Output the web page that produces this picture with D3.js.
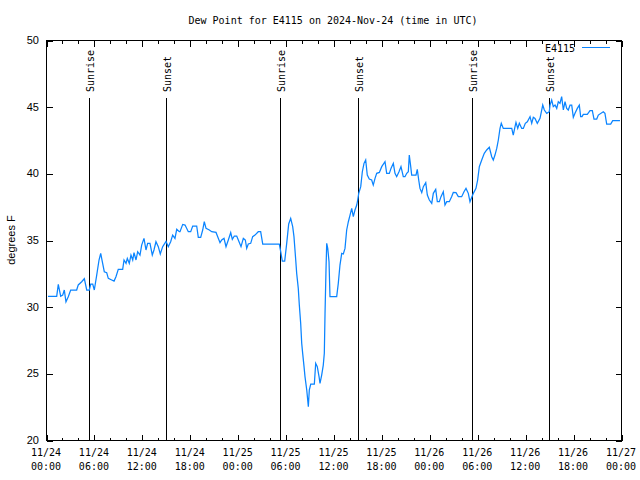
<!DOCTYPE html>
<html>
<head>
<meta charset="utf-8">
<script src="https://cdn.jsdelivr.net/npm/d3@7"></script>
<style>
  html, body { margin: 0; padding: 0; background: #fff; }
  svg { display: block; }
  text { font-family: "DejaVu Sans Mono", "Liberation Mono", monospace; font-size: 10px; fill: #000; }
  text.sans { font-family: "Liberation Sans", Arial, sans-serif; font-size: 11px; }
</style>
</head>
<body>
<svg id="chart" width="640" height="480"></svg>
<script>
// ---- data (hours since 2024-11-24 00:00 UTC, dew point °F) ----
const hours = [0.25,1.34,1.54,1.84,2.09,2.29,2.50,2.79,3.09,3.84,4.04,4.47,4.80,5.10,5.42,5.60,5.85,6.05,6.35,6.64,6.85,7.05,7.30,7.60,7.80,8.23,8.52,8.76,9.05,9.60,9.77,10.02,10.18,10.43,10.64,10.86,11.02,11.27,11.48,11.77,11.98,12.27,12.52,12.73,13.02,13.31,13.52,13.77,14.06,14.31,14.61,15.03,15.31,15.61,15.86,16.15,16.37,16.69,
16.78,17.12,17.41,17.82,18.12,18.37,18.87,19.07,19.37,19.62,19.82,20.04,20.45,20.75,21.29,21.50,21.79,22.00,22.29,22.54,22.83,23.13,23.33,23.58,23.88,24.17,24.42,24.71,24.96,25.13,25.33,25.63,25.88,26.17,26.58,26.88,27.14,29.21,29.39,29.59,29.89,30.14,30.39,30.64,30.89,31.05,31.27,
31.39,31.59,31.72,31.89,32.02,32.14,32.31,32.43,32.65,32.85,32.97,33.15,33.60,33.77,33.97,34.19,34.31,34.52,34.72,34.85,34.94,35.06,35.15,35.28,35.44,35.56,36.40,36.60,36.81,37.03,37.23,37.44,37.65,37.86,38.07,38.28,38.48,38.69,38.91,39.03,
39.16,39.41,39.61,39.82,40.03,40.23,40.48,40.78,40.98,41.20,41.41,41.74,42.04,42.45,42.66,42.99,43.20,43.49,43.70,43.91,44.20,44.45,44.74,44.95,45.17,45.37,45.49,45.67,45.79,46.33,46.49,46.67,46.83,47.05,47.25,47.55,47.75,48.00,48.30,48.50,48.80,49.00,49.25,49.46,49.75,49.96,50.18,50.50,50.79,51.00,51.34,51.63,52.05,52.34,52.59,52.88,53.09,53.34,53.51,53.84,54.05,54.26,54.56,54.88,55.18,55.51,55.81,56.01,56.22,56.44,56.64,56.85,57.01,57.26,58.32,58.51,58.73,58.85,59.07,59.27,59.57,59.77,60.02,60.27,60.61,60.82,61.02,61.23,61.52,61.86,62.20,62.40,62.70,63.02,63.11,63.32,63.52,63.74,63.95,64.15,64.36,64.57,64.78,64.99,65.20,65.40,65.62,65.83,66.03,66.24,66.53,66.78,66.95,67.12,67.28,67.78,68.12,68.41,68.62,68.96,69.16,69.78,69.99,70.21,70.71,70.96,71.87];
const dewPoint = [30.78,30.78,31.68,30.78,30.87,31.25,30.37,30.75,31.25,31.25,31.63,31.87,32.10,31.25,31.25,31.70,31.70,31.25,32.37,33.50,34.00,33.37,32.62,32.55,32.12,32.00,31.92,32.25,32.80,32.80,33.50,33.25,33.62,33.25,33.87,33.50,34.05,33.50,34.12,33.87,34.62,35.12,34.25,34.75,34.75,33.87,34.25,34.87,34.50,33.95,34.50,34.90,34.50,34.87,35.37,35.12,35.80,35.62,
35.62,36.17,36.12,35.62,35.62,36.05,36.05,35.20,35.20,35.75,36.37,35.87,35.75,35.62,35.57,35.25,34.80,35.00,35.12,34.50,35.00,35.55,35.05,35.30,35.30,34.87,34.50,35.12,35.00,34.37,34.70,34.75,35.25,35.37,35.62,35.62,34.70,34.70,34.12,33.42,33.42,34.75,36.20,36.62,36.00,35.25,33.50,
32.50,31.37,30.12,28.75,27.25,26.50,25.50,24.75,23.75,22.50,23.75,24.20,24.20,25.75,25.50,24.75,24.25,24.87,25.62,26.50,29.50,32.75,34.75,34.37,33.37,30.75,30.75,31.75,33.12,34.00,33.95,34.37,35.75,36.37,36.87,37.37,36.75,37.25,37.62,38.00,
38.50,39.00,40.12,40.75,41.00,39.87,39.57,39.50,39.12,39.62,40.00,40.07,40.50,40.87,40.00,40.00,40.37,40.75,40.00,39.75,40.12,40.50,39.75,39.75,40.00,40.12,41.37,40.50,39.87,39.87,40.30,39.50,38.87,38.55,39.00,39.30,38.37,38.00,37.75,38.50,38.80,37.87,37.87,38.25,38.62,37.62,37.87,37.87,38.25,38.57,38.55,38.25,38.25,38.62,38.87,38.50,37.87,38.25,38.50,38.87,39.50,40.50,41.00,41.50,41.75,41.95,41.25,41.00,41.37,41.87,42.50,43.37,43.75,43.37,43.37,42.87,43.50,43.82,43.37,43.75,43.37,43.37,43.75,43.87,44.25,43.75,44.20,44.12,43.75,44.12,45.12,44.75,44.50,44.62,45.12,45.50,45.00,45.12,44.87,45.37,45.25,45.75,44.75,45.37,44.87,44.75,45.12,45.12,44.20,44.50,44.87,45.12,44.25,44.25,44.42,44.42,44.70,44.70,44.07,44.07,44.37,44.62,44.50,43.70,43.70,43.95,43.95];
const sunriseHours = [5.42, 29.36, 53.38];
const sunsetHours = [15.06, 39.11, 63.02];
const yTicks = [20, 25, 30, 35, 40, 45, 50];
const seriesName = "E4115";
const titleText = "Dew Point for E4115 on 2024-Nov-24 (time in UTC)";
const yLabel = "degrees F";

// ---- layout ----
const svg = d3.select("#chart");
const L = 46, R = 621, T = 40, B = 440;
const t0 = Date.UTC(2024, 10, 24);
const toDate = h => new Date(t0 + h * 3600e3);
const lineColor = "#0a84ff";

const x = d3.scaleUtc().domain([toDate(0), toDate(72)]).range([L, R]);
const y = d3.scaleLinear().domain([20, 50]).range([B, T]);

const data = hours.map((h, i) => ({ t: toDate(h), v: dewPoint[i] }));

const axes = svg.append("g").attr("shape-rendering", "crispEdges");

const majorX = d3.utcHour.every(6).range(toDate(0), toDate(72.01));
const minorX = d3.utcHour.every(2).range(toDate(0), toDate(72.01));

// bottom / top ticks (inward)
axes.append("g").attr("transform", `translate(0.5,${B + 0.5})`)
  .call(d3.axisBottom(x).tickValues(minorX).tickSize(-3).tickFormat(""))
  .call(g => g.select(".domain").remove());
axes.append("g").attr("transform", `translate(0.5,${B + 0.5})`)
  .call(d3.axisBottom(x).tickValues(majorX).tickSize(-6).tickFormat(""))
  .call(g => g.select(".domain").remove());
axes.append("g").attr("transform", `translate(0.5,${T + 0.5})`)
  .call(d3.axisTop(x).tickValues(minorX).tickSize(-3).tickFormat(""))
  .call(g => g.select(".domain").remove());
axes.append("g").attr("transform", `translate(0.5,${T + 0.5})`)
  .call(d3.axisTop(x).tickValues(majorX).tickSize(-6).tickFormat(""))
  .call(g => g.select(".domain").remove());
// left / right ticks
axes.append("g").attr("transform", `translate(${L + 0.5},0.5)`)
  .call(d3.axisLeft(y).tickValues(yTicks).tickSize(-6).tickFormat(""))
  .call(g => g.select(".domain").remove());
axes.append("g").attr("transform", `translate(${R + 0.5},0.5)`)
  .call(d3.axisRight(y).tickValues(yTicks).tickSize(-6).tickFormat(""))
  .call(g => g.select(".domain").remove());
axes.selectAll(".tick line").attr("stroke", "#000");

// x labels (two lines)
const fmtD = d3.utcFormat("%m/%d"), fmtT = d3.utcFormat("%H:%M");
const xl = svg.append("g");
majorX.forEach(d => {
  const tx = xl.append("text").attr("text-anchor", "middle").attr("x", x(d));
  tx.append("tspan").attr("x", x(d)).attr("y", 456).text(fmtD(d));
  tx.append("tspan").attr("x", x(d)).attr("y", 470).text(fmtT(d));
});
// y labels
svg.append("g").selectAll("text").data(yTicks).join("text")
  .attr("class", "sans")
  .attr("x", 39).attr("y", d => y(d)).attr("dy", "0.35em")
  .attr("text-anchor", "end").text(d => d);

// sunrise/sunset lines
const sun = svg.append("g");
const events = sunriseHours.map(h => ({ h, label: "Sunrise" }))
  .concat(sunsetHours.map(h => ({ h, label: "Sunset" })));
events.forEach(e => {
  const xx = Math.round(x(toDate(e.h))) + 0.5;
  sun.append("line").attr("x1", xx).attr("x2", xx).attr("y1", 98).attr("y2", B)
    .attr("stroke", "#000").attr("stroke-width", 1).attr("shape-rendering", "crispEdges");
  sun.append("text").attr("transform", `translate(${xx + 4},92) rotate(-90)`)
    .attr("text-anchor", "start").text(e.label);
});

// data line
const line = d3.line().x(d => x(d.t)).y(d => y(d.v));
svg.append("path").datum(data).attr("d", line)
  .attr("fill", "none").attr("stroke", lineColor).attr("stroke-width", 1.25);

// frame
svg.append("rect").attr("x", L + 0.5).attr("y", T + 0.5).attr("width", R - L).attr("height", B - T)
  .attr("fill", "none").attr("stroke", "#000").attr("shape-rendering", "crispEdges");

// legend
svg.append("text").attr("x", 575).attr("y", 48).attr("dy", "0.35em").attr("text-anchor", "end").text(seriesName);
svg.append("rect").attr("x", 582).attr("y", 47).attr("width", 28).attr("height", 1)
  .attr("fill", lineColor).attr("shape-rendering", "crispEdges");

// title
svg.append("text").attr("x", 333).attr("y", 20).attr("dy", "0.35em").attr("text-anchor", "middle").text(titleText);

// y axis label
svg.append("text").attr("class", "sans").attr("transform", "translate(11,240) rotate(-90)").attr("text-anchor", "middle")
  .attr("dy", "0.35em").text(yLabel);
</script>
</body>
</html>
